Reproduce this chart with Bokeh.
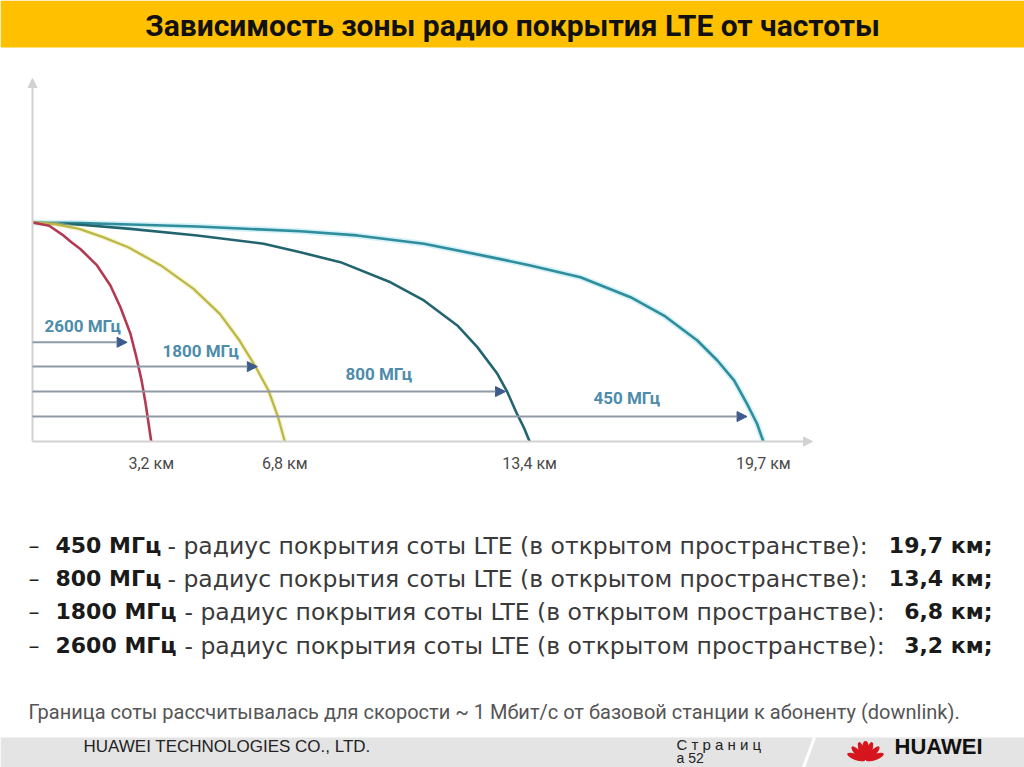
import math
from bokeh.plotting import figure
from bokeh.models import Range1d, Arrow, NormalHead, Label, ColumnDataSource
from bokeh.embed import file_html
from bokeh.resources import INLINE
from bokeh.core.properties import value

# ---------------- data ----------------
bands = ["2600 МГц", "1800 МГц", "800 МГц", "450 МГц"]
radius_km = [3.2, 6.8, 13.4, 19.7]
radius_labels = ["3,2 км", "6,8 км", "13,4 км", "19,7 км"]

curve_2600_x = [0, 0.45, 0.84, 1.05, 1.29, 1.74, 2.10, 2.37, 2.64, 2.80, 2.94, 3.05, 3.13, 3.2]
curve_2600_y = [1.0, 0.985, 0.94, 0.91, 0.879, 0.804, 0.712, 0.613, 0.492, 0.385, 0.279, 0.172, 0.081, 0.0]

curve_1800_x = [0, 0.6, 1.26, 1.9, 2.58, 3.46, 4.34, 5.05, 5.58, 6.02, 6.36, 6.62, 6.8]
curve_1800_y = [1.0, 0.993, 0.971, 0.933, 0.887, 0.804, 0.697, 0.583, 0.461, 0.339, 0.233, 0.111, 0.0]

curve_800_x = [0, 1.3, 2.64, 4.44, 6.23, 7.22, 8.30, 9.65, 10.55, 11.45, 11.99, 12.53, 12.80, 13.06, 13.24, 13.4]
curve_800_y = [1.0, 0.99, 0.971, 0.941, 0.903, 0.864, 0.819, 0.727, 0.644, 0.530, 0.431, 0.309, 0.225, 0.126, 0.065, 0.0]

curve_450_x = [0, 1.3, 2.64, 4.44, 7.22, 8.75, 10.55, 12.35, 13.42, 14.77, 16.12, 17.02, 17.92, 18.46, 18.91, 19.26, 19.53, 19.7]
curve_450_y = [1.0, 0.997, 0.991, 0.982, 0.960, 0.941, 0.903, 0.842, 0.804, 0.750, 0.659, 0.575, 0.461, 0.370, 0.279, 0.172, 0.081, 0.0]

arrow_end_km = [2.55, 6.06, 12.75, 19.26]
arrow_level = [0.453, 0.342, 0.228, 0.114]

list_freq = ["450 МГц", "800 МГц", "1800 МГц", "2600 МГц"]
list_value = ["19,7 км;", "13,4 км;", "6,8 км;", "3,2 км;"]
list_body = "- радиус покрытия соты LTE (в открытом пространстве):"

title_text = "Зависимость зоны радио покрытия LTE от частоты"
footnote_text = "Граница соты рассчитывалась для скорости ~ 1 Мбит/с от базовой станции к абоненту (downlink)."

# ---------------- layout helpers (pixel -> data) ----------------
W, H = 1024, 767
X0, KX = 32.0, 37.1      # px of 0 km, px per km
Y0, KY = 441.0, 219.0    # px of level 0, px per level unit


def X(px):
    return (px - X0) / KX


def Y(py):
    return (Y0 - py) / KY


p = figure(width=W, height=H, output_backend="svg", toolbar_location=None,
           x_range=Range1d(X(0), X(W)), y_range=Range1d(Y(H), Y(0)),
           min_border=0, min_border_left=0, min_border_right=0,
           min_border_top=0, min_border_bottom=0)
p.axis.visible = False
p.grid.visible = False
p.outline_line_color = None
p.background_fill_color = "white"
p.border_fill_color = "white"

# title bar
p.quad(left=X(0), right=X(W), top=Y(0), bottom=Y(47), fill_color="#FFC000", line_color=None)
p.add_layout(Label(x=X(512), y=Y(25), text=title_text, text_align="center", text_baseline="middle",
                   text_font="Roboto", text_font_style="bold", text_font_size="30px",
                   text_color="#111111"))

# chart axes
axis_col = "#d2d2d2"
p.add_layout(Arrow(end=NormalHead(size=9, fill_color=axis_col, line_color=axis_col),
                   x_start=0, y_start=0, x_end=X(812), y_end=0, line_color=axis_col, line_width=2))
p.add_layout(Arrow(end=NormalHead(size=9, fill_color=axis_col, line_color=axis_col),
                   x_start=0, y_start=0, x_end=0, y_end=Y(78), line_color=axis_col, line_width=2))

# curves
p.line(curve_450_x, curve_450_y, line_color="#9fe3ef", line_width=6, line_alpha=0.45, line_join="round")
p.line(curve_450_x, curve_450_y, line_color="#2f8d9c", line_width=2.6, line_join="round")
p.line(curve_800_x, curve_800_y, line_color="#22656f", line_width=2.6, line_join="round")
p.line(curve_1800_x, curve_1800_y, line_color="#e9e59a", line_width=5, line_alpha=0.4, line_join="round")
p.line(curve_1800_x, curve_1800_y, line_color="#bdb846", line_width=2.3, line_join="round")
p.line(curve_2600_x, curve_2600_y, line_color="#b33a52", line_width=2.6, line_join="round")

# arrows
for xe, lv in zip(arrow_end_km, arrow_level):
    p.add_layout(Arrow(end=NormalHead(size=10, fill_color="#3d5b8c", line_color="#3d5b8c"),
                       x_start=0, y_start=lv, x_end=xe, y_end=lv,
                       line_color="#8f9aa6", line_width=2))

# band labels
band_px = [(44, 325), (162, 350), (345, 373), (593, 397)]
src_b = ColumnDataSource(dict(x=[X(a) for a, b in band_px], y=[Y(b) for a, b in band_px], t=bands))
p.text(x="x", y="y", text="t", source=src_b, text_font=value("Roboto"), text_font_style="bold",
       text_font_size="17px", text_color="#4d8cab", text_baseline="middle", text_align="left")

# radius tick labels
src_r = ColumnDataSource(dict(x=radius_km, y=[Y(463)] * 4, t=radius_labels))
p.text(x="x", y="y", text="t", source=src_r, text_font=value("Roboto"), text_font_size="16px",
       text_color="#4a4a4a", text_baseline="middle", text_align="center")

# list
row_y = [545, 578, 611, 645]
body_x = [167, 167, 184, 184]
fs = "22px"
for i in range(4):
    yy = Y(row_y[i])
    p.add_layout(Label(x=X(28), y=yy, text="–", text_font="DejaVu Sans", text_font_size=fs,
                       text_color="#222222", text_baseline="middle"))
    p.add_layout(Label(x=X(55), y=yy, text=list_freq[i], text_font="DejaVu Sans", text_font_style="bold",
                       text_font_size=fs, text_color="#1a1a1a", text_baseline="middle"))
    p.add_layout(Label(x=X(body_x[i]), y=yy, text=list_body, text_font="DejaVu Sans",
                       text_font_size="23.5px", text_color="#3a3a3a", text_baseline="middle"))
    p.add_layout(Label(x=X(992), y=yy, text=list_value[i], text_font="DejaVu Sans", text_font_style="bold",
                       text_font_size=fs, text_color="#1a1a1a", text_baseline="middle", text_align="right"))

# footnote
p.add_layout(Label(x=X(28), y=Y(711), text=footnote_text, text_font="Roboto", text_font_size="20px",
                   text_color="#555555", text_baseline="middle"))

# footer
p.quad(left=X(0), right=X(W), top=Y(737), bottom=Y(H), fill_color="#e4e4e4", line_color=None)
p.line([X(803), X(814)], [Y(H), Y(737)], line_color="white", line_width=3)
p.add_layout(Label(x=X(83), y=Y(746), text="HUAWEI TECHNOLOGIES CO., LTD.", text_font="Liberation Sans",
                   text_font_size="17px", text_color="#222222", text_baseline="middle"))
p.add_layout(Label(x=X(676), y=Y(744), text="С т р а н и ц", text_font="Liberation Sans",
                   text_font_size="15px", text_color="#222222", text_baseline="middle"))
p.add_layout(Label(x=X(676), y=Y(757), text="а   52", text_font="Liberation Sans",
                   text_font_size="14px", text_color="#222222", text_baseline="middle"))
# logo petals
base_x, base_y = 865, 760
px_, py_, ang_ = [], [], []
for a in [20, 45, 70, 88, 92, 110, 135, 160]:
    r = 10
    px_.append(X(base_x + r * math.cos(math.radians(a))))
    py_.append(Y(base_y - r * math.sin(math.radians(a))))
    ang_.append(math.radians(a))
p.ellipse(x=px_, y=py_, width=19, height=6, angle=ang_, width_units="screen", height_units="screen",
          fill_color="#d7151d", line_color=None)
p.add_layout(Label(x=X(894), y=Y(746), text="HUAWEI", text_font="Liberation Sans", text_font_style="bold",
                   text_font_size="22px", text_color="#111111", text_baseline="middle"))

open("out.html", "w").write(file_html(p, INLINE))
